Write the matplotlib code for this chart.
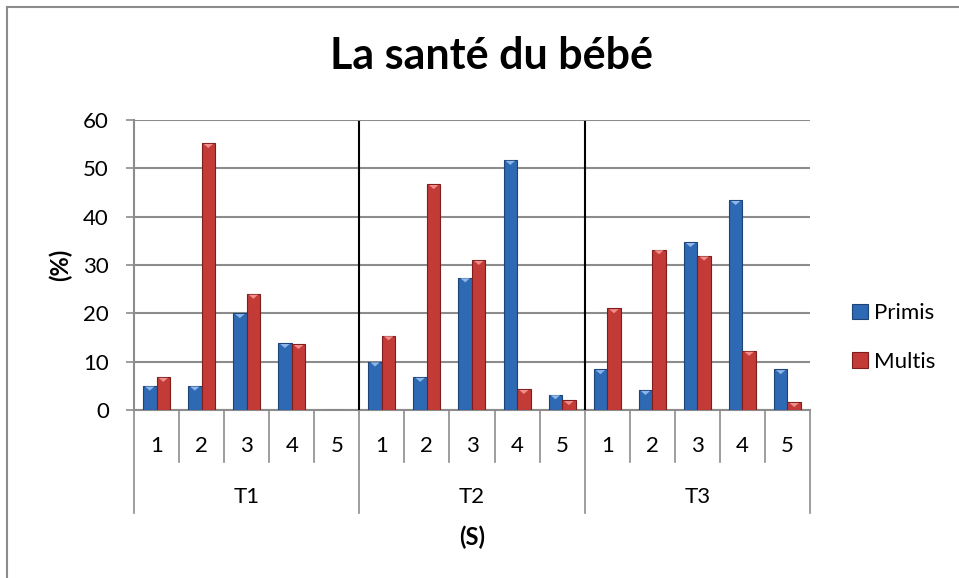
import numpy as np
import matplotlib.pyplot as plt
from matplotlib.lines import Line2D
from matplotlib.transforms import blended_transform_factory

plt.rcParams['font.family'] = ['Lato', 'DejaVu Sans']

# Data
groups = ["T1", "T2", "T3"]
sub_labels = ["1", "2", "3", "4", "5"]
primis = [5, 5, 20, 13.8, 0,
          10, 6.8, 27.4, 51.7, 3.2,
          8.4, 4.1, 34.7, 43.4, 8.4]
multis = [6.8, 55.2, 24, 13.6, 0,
          15.4, 46.7, 31, 4.3, 2.0,
          21, 33.2, 31.9, 12.2, 1.6]

blue = "#2E69B3"
blue_edge = "#1C4478"
blue_top = "#8DB7EA"
red = "#C23B37"
red_edge = "#7E1D1B"
red_top = "#F08C8A"
grid_c = "#8C8C8C"
fs = 16

fig = plt.figure(figsize=(9.59, 5.78), dpi=100)
ax = fig.add_axes([0.1397, 0.2907, 0.7049, 0.5017])

n = len(primis)
x = np.arange(n)
w = 0.3
b1 = ax.bar(x - w / 2, primis, w, color=blue, edgecolor=blue_edge, linewidth=0.8,
            label="Primis", zorder=3)
b2 = ax.bar(x + w / 2, multis, w, color=red, edgecolor=red_edge, linewidth=0.8,
            label="Multis", zorder=3)

# small bevel triangle on top of each bar
for bars, col in [(b1, blue_top), (b2, red_top)]:
    for r in bars:
        h = r.get_height()
        if h <= 0:
            continue
        x0, bw = r.get_x(), r.get_width()
        th = min(1.0, h)
        ax.fill([x0 + bw * 0.15, x0 + bw * 0.85, x0 + bw / 2],
                [h - 0.15, h - 0.15, h - th], color=col, zorder=4, lw=0)

ax.set_xlim(-0.5, n - 0.5)
ax.set_ylim(0, 60)
ax.set_yticks(range(0, 61, 10))
ax.yaxis.grid(True, color=grid_c, linewidth=1.5)
ax.set_axisbelow(True)
ax.tick_params(axis="y", length=6, width=1.2, color=grid_c, labelsize=fs, pad=12)
ax.set_xticks([])
for s in ["top", "right"]:
    ax.spines[s].set_visible(False)
for s in ["left", "bottom"]:
    ax.spines[s].set_color(grid_c)
    ax.spines[s].set_linewidth(1.5)

# black separators between groups
k = len(sub_labels)
for g in range(1, len(groups)):
    ax.axvline(g * k - 0.5, ymin=0, ymax=0.993, color="black", linewidth=1.5, zorder=5)

# multi-level category axis
tr = blended_transform_factory(ax.transData, ax.transAxes)
for i in range(n + 1):
    bottom = -0.355 if i % k == 0 else -0.179
    ax.plot([i - 0.5, i - 0.5], [0, bottom], transform=tr, color=grid_c,
            linewidth=1.2, clip_on=False)
for i in range(n):
    ax.text(i, -0.124, sub_labels[i % k], transform=tr, ha="center", va="center",
            fontsize=fs)
for g, name in enumerate(groups):
    ax.text(g * k + (k - 1) / 2, -0.300, name, transform=tr, ha="center",
            va="center", fontsize=fs)
ax.text((n - 1) / 2, -0.438, "(S)", transform=tr, ha="center", va="center",
        fontsize=17, fontweight="bold")

fig.text(0.0626, 0.5415, "(%)", rotation=90, ha="center", va="center",
         fontsize=17, fontweight="bold")
fig.text(0.512, 0.8806, "La santé du bébé", ha="center", va="baseline",
         fontsize=31, fontweight="bold")

fig.legend(loc="center left", bbox_to_anchor=(0.8884, 0.416), frameon=False,
           fontsize=fs, handlelength=0.7, handleheight=0.7, handletextpad=0.3,
           labelspacing=1.3, borderpad=0, borderaxespad=0)

# chart border (only top and left edges fall inside the image)
fig.add_artist(Line2D([0.0073, 1.0], [0.988, 0.988], transform=fig.transFigure,
                      color=grid_c, linewidth=1.5))
fig.add_artist(Line2D([0.0073, 0.0073], [0.0, 0.988], transform=fig.transFigure,
                      color=grid_c, linewidth=1.5))

fig.savefig("out.png", dpi=100)
